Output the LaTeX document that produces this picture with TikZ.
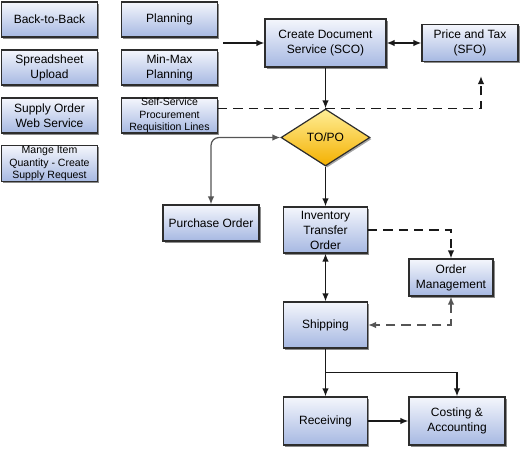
\documentclass[tikz,border=0pt]{standalone}
\usepackage{fontspec}
\setmainfont{Liberation Sans}
\usepackage{tikz}
\usetikzlibrary{shapes}
\usetikzlibrary{arrows.meta}
\usetikzlibrary{shadows}
\usetikzlibrary{calc}
\definecolor{boxtop}{RGB}{244,246,252}
\definecolor{boxbot}{RGB}{166,184,226}
\definecolor{dtop}{RGB}{255,238,150}
\definecolor{dbot}{RGB}{244,176,0}
\definecolor{boxline}{RGB}{45,45,45}
\definecolor{linecol}{RGB}{25,25,25}
\definecolor{softline}{RGB}{85,85,85}
\tikzset{
	main node/.style={rectangle,draw=boxline,line width=0.9pt,top color=boxtop,bottom color=boxbot,
		align=center,inner sep=1pt,font=\fontsize{9}{11.25}\selectfont,
		drop shadow={shadow xshift=1.4pt,shadow yshift=-1.4pt,fill=black!45,opacity=1}},
	small node/.style={main node,inner ysep=0pt,font=\fontsize{7.9}{9.4}\selectfont},
	boxsize/.style 2 args={minimum width=#1*0.75pt,minimum height=#2*0.75pt},
	choice/.style={diamond,draw=boxline,line width=0.9pt,top color=dtop,bottom color=dbot,
		minimum width=66.75pt,minimum height=42.75pt,inner sep=0pt,font=\fontsize{9}{11.25}\selectfont,
		drop shadow={shadow xshift=1.2pt,shadow yshift=-1.2pt,fill=black!35,opacity=1}},
	flow/.style={line width=0.95pt,color=linecol},
	dashed flow/.style={flow,dash pattern=on 7pt off 4.5pt}
}

\begin{document}
\begin{tikzpicture}[x=0.75pt,y=-0.75pt,>={Latex[length=6pt,width=4.8pt]},node distance=36pt]
      \useasboundingbox (0,0) rectangle (522,450);

      % entry points
      \node[main node,boxsize={96}{35}] (1) at (49.5,19.5) {Back-to-Back};
      \node[main node,boxsize={96}{35}] (2) [below of=1] {Spreadsheet\\Upload};
      \node[main node,boxsize={96}{35}] (3) [below of=2] {Supply Order\\Web Service};
      \node[small node,boxsize={96}{36}] (4) [below of=3] {Mange Item\\Quantity - Create\\Supply Request};
      \node[main node,boxsize={96}{35}] (5) at (169.5,19.5) {Planning};
      \node[main node,boxsize={96}{35}] (6) [below of=5] {Min-Max\\Planning};
      \node[small node,boxsize={96}{35}] (7) [below of=6] {Self-Service\\Procurement\\Requisition Lines};

      % main flow
      \node[main node,boxsize={121}{48}] (8) at (325.5,43) {Create Document\\Service (SCO)};
      \node[main node,boxsize={96}{37}] (9) at (470,43) {Price and Tax\\(SFO)};
      \node[choice] (10) at (325.5,137.5) {TO/PO};
      \node[main node,boxsize={96}{36}] (11) at (211,223) {Purchase Order};
      \node[main node,boxsize={84}{46}] (12) at (325.5,230) {Inventory\\Transfer\\Order};
      \node[main node,boxsize={84}{37}] (13) at (451,277.5) {Order\\Management};
      \node[main node,boxsize={84}{46}] (14) at (325.5,325) {Shipping};
      \node[main node,boxsize={84}{48}] (15) at (325.5,421) {Receiving};
      \node[main node,boxsize={96}{48}] (16) at (457,421) {Costing \&\\Accounting};

      \coordinate (p) at (223,43);
      \coordinate (q) at ([xshift=8.25pt,yshift=-10.5pt]9.south);

      \path[->,flow]
        (p) edge (8)
        (8) edge (10)
        (10) edge (12)
        (14) edge (15)
        (15) edge (16);
      \path[<->,flow]
        (8) edge (9)
        (12) edge (14);
      \draw[->,flow] ($(14.south)!0.5!(15.north)$) -| (16.north);
      \draw[<->,flow,color=softline,rounded corners=6pt] (10.west) -| (11.north);

      \draw[->,dashed flow] ([yshift=5.25pt]7.east) -| (q);
      \draw[->,dashed flow] (12.east) -| (13.north);
      \draw[<->,dashed flow,color=softline] (13.south) |- (14.east);
    \end{tikzpicture}
\end{document}
